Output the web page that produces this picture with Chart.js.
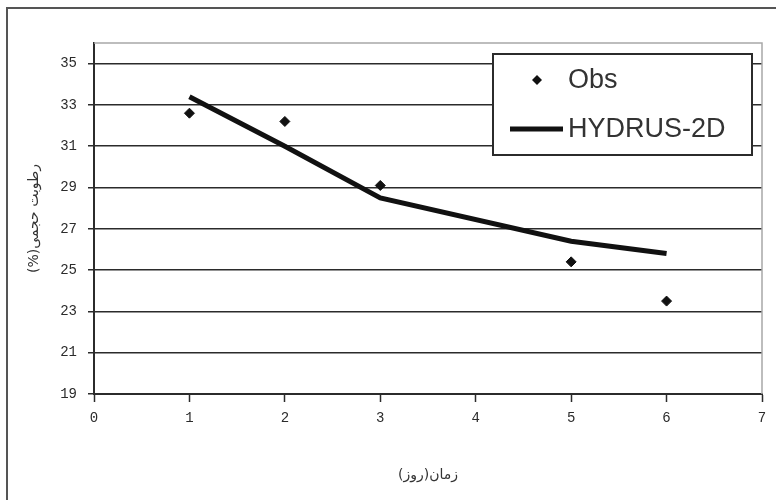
<!DOCTYPE html>
<html>
<head>
<meta charset="utf-8">
<script src="https://cdn.jsdelivr.net/npm/chart.js@4/dist/chart.umd.min.js"></script>
<style>
    html, body { margin: 0; padding: 0; background: #fff; overflow: hidden; }
    #marco {
        position: absolute; left: 6px; top: 7px;
        width: 800px; height: 520px;
        border: 2px solid #555;
    }
    #myChart { position: absolute; left: 0; top: 0; }
</style>
</head>
<body>
<div id="marco"></div>
<canvas id="myChart" width="776" height="500"></canvas>
<script>
// dias de medicion
const dias = [1, 2, 3, 5, 6];
// humedad volumetrica observada (%)
const obs = [32.6, 32.2, 29.1, 25.4, 23.5];
// humedad simulada con HYDRUS-2D (%)
const hydrus = [33.4, 31.0, 28.5, 26.4, 25.8];

const ticksX = [0, 1, 2, 3, 4, 5, 6, 7];
const ticksY = [19, 21, 23, 25, 27, 29, 31, 33, 35];

// el RLM final deja el parentesis del lado izquierdo (texto RTL)
const tituloX = 'زمان(روز)\u200F';
const tituloY = 'رطوبت حجمی(%)\u200F';

const oscuro = '#2b2b2b';
const fuenteTicks = { family: "'Liberation Mono', monospace", size: 14 };

const puntosObs = dias.map(function(d, i) {
    return { x: d, y: obs[i] };
});
const puntosHydrus = dias.map(function(d, i) {
    return { x: d, y: hydrus[i] };
});

// borde gris arriba y a la derecha del area de graficado
const bordeArea = {
    id: 'bordeArea',
    beforeDatasetsDraw(chart) {
        const a = chart.chartArea;
        const ctx = chart.ctx;
        ctx.save();
        ctx.strokeStyle = '#a8a8a8';
        ctx.lineWidth = 1.5;
        ctx.beginPath();
        ctx.moveTo(a.left, a.top);
        ctx.lineTo(a.right, a.top);
        ctx.lineTo(a.right, a.bottom);
        ctx.stroke();
        ctx.restore();
    }
};

// leyenda con recuadro dentro del area
const leyendaCaja = {
    id: 'leyendaCaja',
    afterDraw(chart) {
        const a = chart.chartArea;
        const ctx = chart.ctx;
        const w = 259, h = 101;
        const x = a.right - 10 - w;
        const y = a.top + 11;
        ctx.save();
        ctx.fillStyle = '#fff';
        ctx.fillRect(x, y, w, h);
        ctx.strokeStyle = oscuro;
        ctx.lineWidth = 2;
        ctx.strokeRect(x, y, w, h);

        ctx.font = "27px 'Liberation Sans', Arial, sans-serif";
        ctx.textBaseline = 'middle';
        ctx.fillStyle = '#333';

        chart.data.datasets.forEach(function(ds, i) {
            const cy = y + 26 + i * 49;
            if (ds.showLine === false) {
                const cx = x + 44, r = 5;
                ctx.fillStyle = ds.pointBackgroundColor;
                ctx.beginPath();
                ctx.moveTo(cx, cy - r);
                ctx.lineTo(cx + r, cy);
                ctx.lineTo(cx, cy + r);
                ctx.lineTo(cx - r, cy);
                ctx.closePath();
                ctx.fill();
            } else {
                ctx.strokeStyle = ds.borderColor;
                ctx.lineWidth = ds.borderWidth;
                ctx.beginPath();
                ctx.moveTo(x + 17, cy);
                ctx.lineTo(x + 70, cy);
                ctx.stroke();
            }
            ctx.fillStyle = '#333';
            ctx.fillText(ds.label, x + 75, cy + 1);
        });
        ctx.restore();
    }
};

const ctx = document.getElementById('myChart').getContext('2d');

const chart = new Chart(ctx, {
    type: 'scatter',
    data: {
        datasets: [{
            label: 'Obs',
            data: puntosObs,
            showLine: false,
            pointStyle: 'rectRot',
            pointRadius: 5,
            pointBackgroundColor: '#111',
            pointBorderColor: '#111',
            borderColor: '#111',
            pointBorderWidth: 1
        }, {
            label: 'HYDRUS-2D',
            data: puntosHydrus,
            showLine: true,
            borderColor: '#111',
            borderWidth: 5,
            pointRadius: 0,
            tension: 0
        }]
    },
    options: {
        responsive: false,
        animation: false,
        layout: {
            padding: { top: 43, right: 14, left: 0, bottom: 0 }
        },
        plugins: {
            legend: { display: false },
            tooltip: { enabled: false }
        },
        scales: {
            x: {
                type: 'linear',
                position: 'bottom',
                min: 0,
                max: 7,
                afterBuildTicks: function(scale) {
                    scale.ticks = ticksX.map(function(v) { return { value: v }; });
                },
                afterFit: function(scale) {
                    scale.height = 106;
                },
                ticks: {
                    color: oscuro,
                    font: fuenteTicks,
                    padding: 8,
                    maxRotation: 0
                },
                grid: {
                    drawOnChartArea: false,
                    tickLength: 8,
                    tickColor: oscuro,
                    tickWidth: 1.5
                },
                border: { color: oscuro, width: 2 },
                title: {
                    display: true,
                    text: tituloX,
                    color: '#333',
                    font: { family: "'DejaVu Sans', sans-serif", size: 14 },
                    padding: { top: 0, bottom: 16 }
                }
            },
            y: {
                min: 19,
                max: 36,
                afterBuildTicks: function(scale) {
                    scale.ticks = ticksY.map(function(v) { return { value: v }; });
                },
                afterFit: function(scale) {
                    scale.width = 94;
                },
                ticks: {
                    color: oscuro,
                    font: fuenteTicks,
                    padding: 11
                },
                grid: {
                    color: oscuro,
                    lineWidth: 1.5,
                    tickLength: 6,
                    tickColor: oscuro
                },
                border: { color: oscuro, width: 2 },
                title: {
                    display: true,
                    text: tituloY,
                    color: '#333',
                    font: { family: "'DejaVu Sans', sans-serif", size: 14 },
                    padding: { top: 26, bottom: 0 }
                }
            }
        }
    },
    plugins: [bordeArea, leyendaCaja]
});
</script>
</body>
</html>
